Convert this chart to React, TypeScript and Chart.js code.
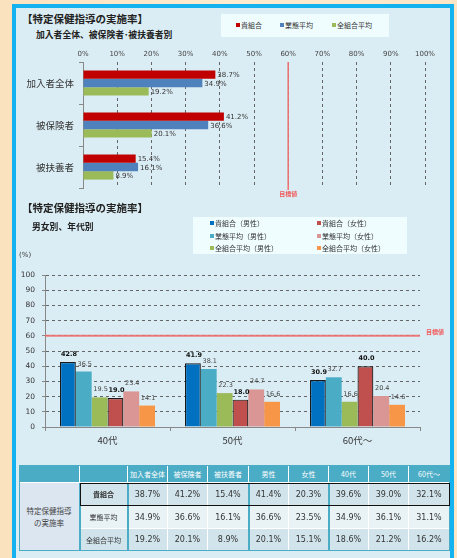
import React, { useEffect, useRef } from 'react';
import { Chart, registerables } from 'chart.js';
Chart.register(...registerables);

// ---------- data ----------
const groups1 = ['加入者全体', '被保険者', '被扶養者'];
const kumiai1 = [38.7, 41.2, 15.4];
const gyotai1 = [34.9, 36.6, 16.1];
const zenkumi1 = [19.2, 20.1, 8.9];

const ages = ['40代', '50代', '60代～'];
const kumiaiMale = [42.8, 41.9, 30.9];
const gyotaiMale = [36.5, 38.1, 32.7];
const zenMale = [19.5, 22.3, 16.6];
const kumiaiFemale = [19.0, 18.0, 40.0];
const gyotaiFemale = [23.4, 24.7, 20.4];
const zenFemale = [14.1, 16.6, 14.6];
const targetValue = 60;

const legend1 = ['貴組合', '業態平均', '全組合平均'];
const legend2 = ['貴組合（男性）', '業態平均（男性）', '全組合平均（男性）', '貴組合（女性）', '業態平均（女性）', '全組合平均（女性）'];

const tableHeaders = ['加入者全体', '被保険者', '被扶養者', '男性', '女性', '40代', '50代', '60代～'];
const tableRowLabels = ['貴組合', '業態平均', '全組合平均'];
const tableKumiai = [38.7, 41.2, 15.4, 41.4, 20.3, 39.6, 39.0, 32.1];
const tableGyotai = [34.9, 36.6, 16.1, 36.6, 23.5, 34.9, 36.1, 31.1];
const tableZen = [19.2, 20.1, 8.9, 20.1, 15.1, 18.6, 21.2, 16.2];

// ---------- styles ----------
const FONT = "'DejaVu Sans', 'Noto Sans CJK JP', sans-serif";
const JFONT = "'Noto Sans CJK JP', sans-serif";
const colors1 = ['#c00000', '#4f81bd', '#9bbb59'];
const colors2 = ['#0070c0', '#4bacc6', '#9bbb59', '#c0504d', '#d99694', '#f79646'];

const Txt = ({ x, y, size, bold, color, font, children, align }: any) => {
  const h = size + 6;
  const style: any = {
    position: 'absolute', top: y - h / 2, height: h, lineHeight: h + 'px',
    fontSize: size, fontWeight: bold ? 'bold' : 'normal', color: color || '#222',
    fontFamily: font || JFONT, whiteSpace: 'nowrap',
  };
  if (align === 'center') { style.left = x - 50; style.width = 100; style.textAlign = 'center'; }
  else style.left = x;
  return <div style={style}>{children}</div>;
};

export default function App() {
  const c1 = useRef<HTMLCanvasElement>(null);
  const c2 = useRef<HTMLCanvasElement>(null);

  useEffect(() => {
    Chart.defaults.font.family = FONT;

    const labels1 = {
      id: 'labels1',
      afterDatasetsDraw(chart: any) {
        const { ctx } = chart;
        ctx.save();
        ctx.font = `7px ${FONT}`;
        ctx.fillStyle = '#333';
        ctx.textAlign = 'left';
        ctx.textBaseline = 'middle';
        chart.data.datasets.forEach((ds: any, i: number) => {
          chart.getDatasetMeta(i).data.forEach((el: any, j: number) => {
            ctx.fillText(ds.data[j].toFixed(1) + '%', el.x + 2, el.y + 1);
          });
        });
        const x = chart.scales.x.getPixelForValue(targetValue);
        const ca = chart.chartArea;
        ctx.strokeStyle = '#f07070';
        ctx.lineWidth = 1.5;
        ctx.beginPath();
        ctx.moveTo(x, ca.top);
        ctx.lineTo(x, ca.bottom + 2);
        ctx.stroke();
        ctx.fillStyle = '#f05a5a';
        ctx.font = `bold 6px ${JFONT}`;
        ctx.textAlign = 'center';
        ctx.fillText('目標値', x, ca.bottom + 6);
        ctx.restore();
      },
    };

    const ch1 = new Chart(c1.current!, {
      type: 'bar',
      data: {
        labels: groups1,
        datasets: [kumiai1, gyotai1, zenkumi1].map((d, i) => ({
          label: legend1[i], data: d, backgroundColor: colors1[i],
          categoryPercentage: 0.6, barPercentage: 1.0,
        })),
      },
      options: {
        indexAxis: 'y', animation: false, responsive: false,
        layout: { padding: { top: 0, right: 25, bottom: 17, left: 0 } },
        plugins: { legend: { display: false }, tooltip: { enabled: false } },
        scales: {
          x: {
            position: 'top', min: 0, max: 100,
            ticks: { stepSize: 10, callback: (v: any) => v + '%', font: { size: 7 }, color: '#444', padding: 4 },
            grid: { color: '#666', drawTicks: false },
            border: { display: false, dash: [3, 3] },
            afterFit: (s: any) => { s.height = 22; },
          },
          y: {
            ticks: { font: { size: 9.5, family: JFONT }, color: '#333', padding: 5 },
            grid: { drawOnChartArea: false, color: '#888', tickLength: 4 },
            border: { color: '#888' },
            afterFit: (s: any) => { s.width = 66; },
          },
        },
      },
      plugins: [labels1],
    } as any);

    const labels2 = {
      id: 'labels2',
      beforeDatasetsDraw(chart: any) {
        const { ctx } = chart;
        const y = chart.scales.y.getPixelForValue(targetValue);
        const ca = chart.chartArea;
        ctx.save();
        ctx.strokeStyle = 'rgba(240,110,110,0.9)';
        ctx.lineWidth = 2;
        ctx.beginPath();
        ctx.moveTo(ca.left, y);
        ctx.lineTo(ca.right, y);
        ctx.stroke();
        ctx.fillStyle = '#f05a5a';
        ctx.font = `bold 6px ${JFONT}`;
        ctx.textAlign = 'left';
        ctx.textBaseline = 'middle';
        ctx.fillText('目標値', ca.right + 6, y - 4);
        ctx.restore();
      },
      afterDatasetsDraw(chart: any) {
        const { ctx } = chart;
        ctx.save();
        ctx.fillStyle = '#333';
        ctx.textAlign = 'center';
        ctx.textBaseline = 'alphabetic';
        chart.data.datasets.forEach((ds: any, i: number) => {
          const bold = i === 0 || i === 3;
          ctx.font = `${bold ? 'bold ' : ''}6.5px ${FONT}`;
          ctx.fillStyle = bold ? '#111' : '#444';
          chart.getDatasetMeta(i).data.forEach((el: any, j: number) => {
            ctx.fillText(ds.data[j].toFixed(1), el.x + 1, el.y - 6);
          });
        });
        ctx.restore();
      },
    };

    const ch2 = new Chart(c2.current!, {
      type: 'bar',
      data: {
        labels: ages,
        datasets: [kumiaiMale, gyotaiMale, zenMale, kumiaiFemale, gyotaiFemale, zenFemale].map((d, i) => ({
          label: legend2[i], data: d, backgroundColor: colors2[i],
          borderColor: i === 0 || i === 3 ? '#1a1a1a' : colors2[i],
          borderWidth: i === 0 || i === 3 ? 1.2 : 0,
          categoryPercentage: 0.76, barPercentage: 1.0,
        })),
      },
      options: {
        animation: false, responsive: false,
        layout: { padding: { top: 17, right: 30, bottom: 0, left: 0 } },
        plugins: { legend: { display: false }, tooltip: { enabled: false } },
        scales: {
          x: {
            ticks: { font: { size: 9.5, family: JFONT }, color: '#333', padding: 4 },
            grid: { drawOnChartArea: false, color: '#888', tickLength: 4 },
            border: { color: '#888' },
            afterFit: (s: any) => { s.height = 28; },
          },
          y: {
            min: 0, max: 100,
            ticks: { stepSize: 10, font: { size: 7.5 }, color: '#333', padding: 7 },
            grid: { color: '#666', tickLength: 3, tickColor: '#888' },
            border: { color: '#888', dash: [3, 3] },
            afterFit: (s: any) => { s.width = 28; },
          },
        },
      },
      plugins: [labels2],
    } as any);

    return () => { ch1.destroy(); ch2.destroy(); };
  }, []);

  // table geometry
  const xs = [19, 80, 128, 168, 208, 249, 289, 329, 369, 409, 450];
  const ys = [465, 483, 506, 529, 551];
  const teal = '#4bacc6';
  const rowBg = ['#d1e4eb', '#e9f3f6', '#d1e4eb'];
  const rowsData = [tableKumiai, tableGyotai, tableZen];
  const cells: any[] = [];
  const cell = (key: string, x0: number, y0: number, x1: number, y1: number, bg: string, content: any, st: any = {}) => {
    cells.push(
      <div key={key} style={{
        position: 'absolute', left: x0, top: y0, width: x1 - x0, height: y1 - y0,
        background: bg, boxSizing: 'border-box', borderRight: '1px solid #fff', borderBottom: '1px solid #fff',
        display: 'flex', alignItems: 'center', justifyContent: 'center', textAlign: 'center',
        whiteSpace: 'pre', ...st,
      }}>{content}</div>
    );
  };
  cell('h0', xs[0], ys[0], xs[1], ys[1], teal, '');
  cell('h1', xs[1], ys[0], xs[2], ys[1], teal, '');
  tableHeaders.forEach((h, i) => cell('h' + (i + 2), xs[i + 2], ys[0], xs[i + 3], ys[1], teal, h,
    { color: '#fff', fontSize: 7, fontFamily: JFONT }));
  cell('lab', xs[0], ys[1], xs[1], ys[4], '#dce6f1', '特定保健指導\nの実施率',
    { color: '#444', fontSize: 7.5, fontFamily: JFONT, lineHeight: '12px' });
  tableRowLabels.forEach((r, ri) => {
    cell('r' + ri, xs[1], ys[ri + 1], xs[2], ys[ri + 2], rowBg[ri], r,
      { color: '#333', fontSize: 7, fontFamily: JFONT, fontWeight: ri === 0 ? 'bold' : 'normal' });
    rowsData[ri].forEach((v, ci) => cell('c' + ri + '_' + ci, xs[ci + 2], ys[ri + 1], xs[ci + 3], ys[ri + 2], rowBg[ri],
      v.toFixed(1) + '%', { color: '#333', fontSize: 8, fontFamily: FONT }));
  });
  const vlines = [80, 128, 249, 329].map((x) => (
    <div key={'v' + x} style={{ position: 'absolute', left: x - 1, top: ys[1], width: 1.5, height: ys[4] - ys[1], background: teal }} />
  ));

  return (
    <div style={{ position: 'fixed', left: 0, top: 0, width: 457, height: 558, overflow: 'hidden',
      background: 'linear-gradient(90deg, #fbe2bf 0%, #fdeccf 50%, #fde6c6 100%)' }}>
      <div style={{ position: 'absolute', left: 12, top: 4, width: 442, height: 600, boxSizing: 'border-box',
        border: '4px solid #14b2ee', background: '#dbedf4' }} />

      {/* chart 1 headings */}
      <Txt x={22} y={19} size={10.5} bold>【特定保健指導の実施率】</Txt>
      <Txt x={36} y={35} size={8.8} bold>加入者全体、被保険者･被扶養者別</Txt>
      <div style={{ position: 'absolute', left: 221, top: 14, width: 168, height: 23, background: '#f0fdff' }} />
      {[236, 280, 332].map((x, i) => (
        <React.Fragment key={'l1' + i}>
          <div style={{ position: 'absolute', left: x, top: 23, width: 4, height: 4, background: colors1[i] }} />
          <Txt x={x + 5} y={25.5} size={7} color="#333">{legend1[i]}</Txt>
        </React.Fragment>
      ))}

      <canvas ref={c1} width={433} height={165}
        style={{ position: 'absolute', left: 17, top: 40, width: 433, height: 165 }} />

      {/* chart 2 headings */}
      <Txt x={22} y={208} size={10.5} bold>【特定保健指導の実施率】</Txt>
      <Txt x={32} y={227} size={8.8} bold>男女別、年代別</Txt>
      <div style={{ position: 'absolute', left: 193, top: 217, width: 214, height: 37, background: '#f0fdff' }} />
      {legend2.map((l, i) => {
        const col = i < 3 ? 0 : 1;
        const row = i % 3;
        const x = col === 0 ? 210 : 317;
        const y = [223, 236, 248][row];
        return (
          <React.Fragment key={'l2' + i}>
            <div style={{ position: 'absolute', left: x, top: y - 2, width: 4, height: 4, background: colors2[i] }} />
            <Txt x={x + 5} y={y + 0.5} size={7} color="#333">{l}</Txt>
          </React.Fragment>
        );
      })}
      <Txt x={19} y={255} size={7} color="#333" font={FONT}>(%)</Txt>

      <canvas ref={c2} width={433} height={197}
        style={{ position: 'absolute', left: 17, top: 258, width: 433, height: 197 }} />

      {/* table */}
      {cells}
      {vlines}
      <div style={{ position: 'absolute', left: xs[0], top: ys[0], width: xs[10] - xs[0], height: ys[4] - ys[0],
        boxSizing: 'border-box', border: '1.5px solid ' + teal }} />
      <div style={{ position: 'absolute', left: xs[1], top: ys[1], width: xs[10] - xs[1], height: ys[2] - ys[1],
        boxSizing: 'border-box', border: '1.5px solid #111' }} />
    </div>
  );
}
